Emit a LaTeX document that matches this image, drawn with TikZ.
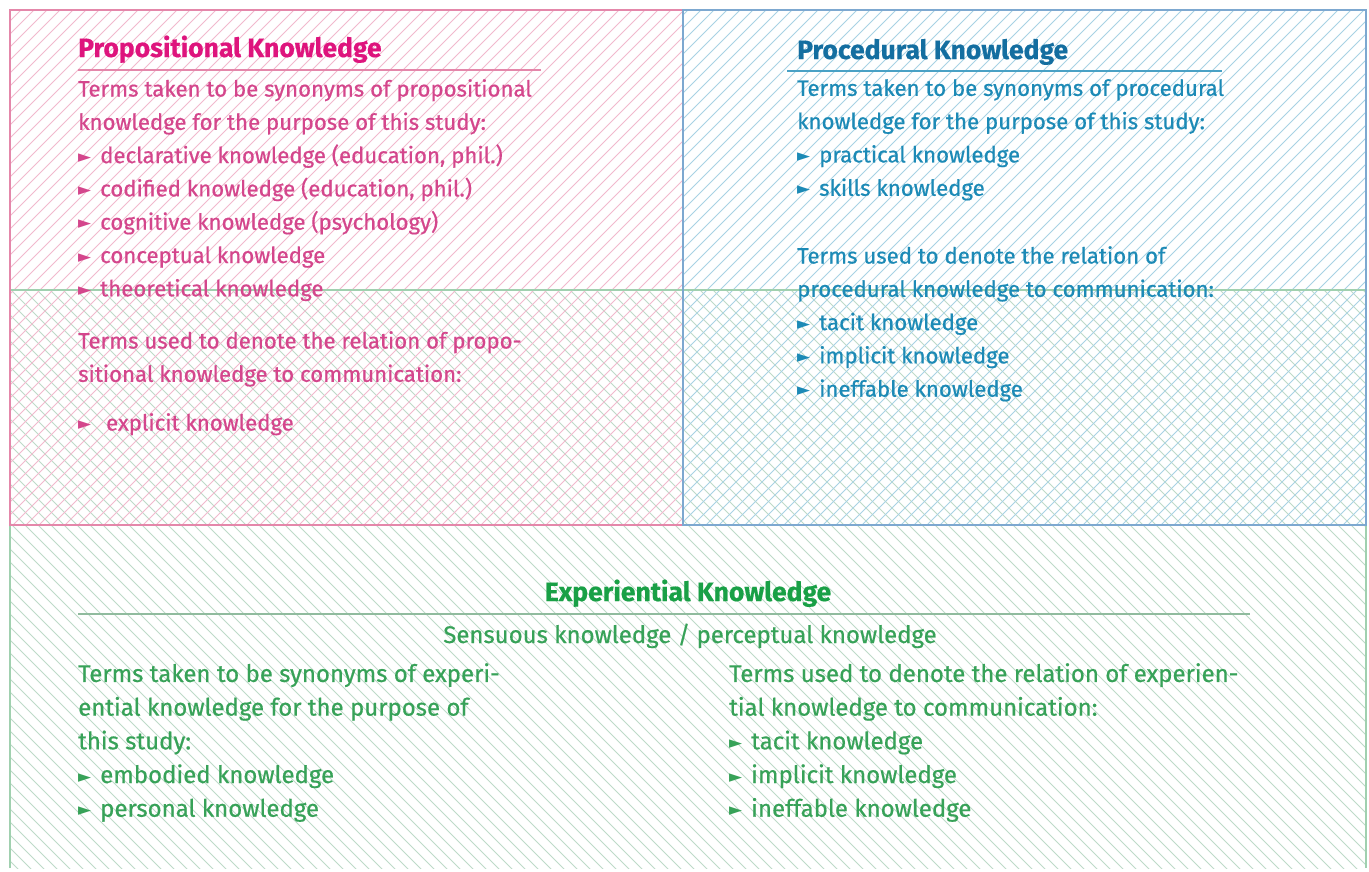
\documentclass[tikz,border=0pt]{standalone}
\usepackage{fontspec}
\setmainfont{Fira Sans}
\newfontfamily\bodyff{Fira Sans}[FakeBold=0.6]
\newfontfamily\titleff{Fira Sans Bold}[FakeBold=0.5]
\newfontfamily\dejavu{DejaVu Sans}
\definecolor{pinkhatch}{RGB}{242,185,205}
\definecolor{pinkframe}{RGB}{228,135,170}
\definecolor{pinktitle}{RGB}{222,20,125}
\definecolor{pinktext}{RGB}{212,70,140}
\definecolor{bluehatch}{RGB}{168,210,228}
\definecolor{blueframe}{RGB}{125,168,208}
\definecolor{bluetitle}{RGB}{20,110,160}
\definecolor{bluetext}{RGB}{28,138,182}
\definecolor{greenhatch}{RGB}{190,218,200}
\definecolor{greenframe}{RGB}{160,208,175}
\definecolor{greentitle}{RGB}{25,160,70}
\definecolor{greentext}{RGB}{55,162,88}
\newcommand\bul{\makebox[22pt][l]{\raisebox{1pt}{\dejavu\fontsize{17}{17}\selectfont ►}}}
\begin{document}
\begin{tikzpicture}[x=1pt,y=-1pt,
  titlefont/.style={font=\titleff\fontsize{26.5}{30}\selectfont, inner sep=0pt},
  bodyfont/.style={font=\bodyff\fontsize{22.2}{33.3}\selectfont, align=left, inner sep=0pt},
  gbodyfont/.style={font=\bodyff\fontsize{24}{33.7}\selectfont, align=left, inner sep=0pt},
  hatchline/.style={line width=1pt},
  frameline/.style={line width=1.5pt}]
\useasboundingbox[fill=white] (0,0) rectangle (1369,871);
% green hatch
\begin{scope}
\clip (10,290) rectangle (1366,868);
\foreach \a in {-600,-587,...,1370} \draw[hatchline,greenhatch] (\a,290) -- ++(580,580);
\end{scope}
% pink hatch
\begin{scope}
\clip (10,10) rectangle (683,525);
\foreach \a in {-520,-507,...,690} \draw[hatchline,pinkhatch] (\a,525) -- ++(520,-520);
\end{scope}
% blue hatch
\begin{scope}
\clip (683,10) rectangle (1366,525);
\foreach \a in {160,173,...,1370} \draw[hatchline,bluehatch] (\a,525) -- ++(520,-520);
\end{scope}
% frames
\draw[frameline,greenframe] (10,868) -- (10,290) -- (1366,290) -- (1366,868);
\draw[frameline,pinkframe] (683,525) -- (10,525) -- (10,10) -- (683,10);
\draw[frameline,blueframe] (683,10) -- (1366,10) -- (1366,525) -- (683,525) -- cycle;

% Propositional
\node[titlefont, text=pinktitle, anchor=base west] (ptitle) at (78,57) {Propositional Knowledge};
\coordinate (pul1) at (78,70); \coordinate (pul2) at (541,70);
\draw[line width=1.8pt, pinkframe] (pul1) -- (pul2);
\node[bodyfont, text=pinktext, anchor=north west] (p1) at (78,79) {Terms taken to be synonyms of propositional\\
knowledge for the purpose of this study:\\
\bul declarative knowledge (education, phil.)\\
\bul codified knowledge (education, phil.)\\
\bul cognitive knowledge (psychology)\\
\bul conceptual knowledge\\
\bul theoretical knowledge};
\node[bodyfont, text=pinktext, anchor=north west] (p2) at (78,331) {Terms used to denote the relation of propo-\\
sitional knowledge to communication:};
\node[bodyfont, text=pinktext, anchor=north west] (p3) at (78,413) {\bul\ explicit knowledge};

% Procedural
\node[titlefont, text=bluetitle, anchor=base west] (btitle) at (797,59) {Procedural Knowledge};
\coordinate (bul1) at (787,71); \coordinate (bul2) at (1222,71);
\draw[line width=1.8pt, bluetext!80] (bul1) -- (bul2);
\node[bodyfont, text=bluetext, anchor=north west] (b1) at (797,79) {Terms taken to be synonyms of procedural\\
knowledge for the purpose of this study:\\
\bul practical knowledge\\
\bul skills knowledge};
\node[bodyfont, text=bluetext, anchor=north west] (b2) at (797,246) {Terms used to denote the relation of\\
procedural knowledge to communication:\\
\bul tacit knowledge\\
\bul implicit knowledge\\
\bul ineffable knowledge};

% Experiential
\node[titlefont, text=greentitle, anchor=base] (gtitle) at (688,601) {Experiential Knowledge};
\coordinate (gul1) at (78,614); \coordinate (gul2) at (1250,614);
\draw[line width=1.6pt, greenframe!90!black] (gul1) -- (gul2);
\node[gbodyfont, text=greentext, anchor=base] (gsub) at (690,643) {Sensuous knowledge / perceptual knowledge};
\node[gbodyfont, text=greentext, anchor=north west] (g1) at (78,663) {Terms taken to be synonyms of experi-\\
ential knowledge for the purpose of\\
this study:\\
\bul embodied knowledge\\
\bul personal knowledge};
\node[gbodyfont, text=greentext, anchor=north west] (g2) at (729,663) {Terms used to denote the relation of experien-\\
tial knowledge to communication:\\
\bul tacit knowledge\\
\bul implicit knowledge\\
\bul ineffable knowledge};
\end{tikzpicture}
\end{document}
